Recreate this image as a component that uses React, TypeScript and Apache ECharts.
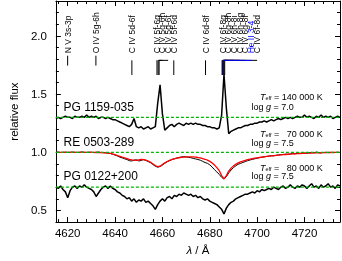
import React, { useEffect, useRef } from "react";
import * as echarts from "echarts";

const FONT = "'Liberation Sans', Arial, Helvetica, sans-serif";

// ---------- data ----------
const LAMBDA_START = 4615;
const LAMBDA_STEP = 1;
const X_MIN = 4615;
const X_MAX = 4735;
const Y_MIN = 0.4;
const Y_MAX = 2.3;

// PG 1159-035 observation (offset continuum 1.3)
const pg1159 = [
  1.29, 1.30, 1.29, 1.30, 1.31, 1.30, 1.30, 1.29, 1.31, 1.30,
  1.30, 1.31, 1.30, 1.32, 1.30, 1.31, 1.30, 1.31, 1.29, 1.30,
  1.30, 1.29, 1.30, 1.29, 1.28, 1.28, 1.27, 1.26, 1.25, 1.24,
  1.23, 1.22, 1.24, 1.29, 1.22, 1.21, 1.22, 1.20, 1.21, 1.22,
  1.20, 1.21, 1.22, 1.42, 1.58, 1.33, 1.19, 1.21, 1.23, 1.24,
  1.22, 1.24, 1.25, 1.24, 1.23, 1.25, 1.24, 1.25, 1.24, 1.25,
  1.24, 1.24, 1.23, 1.23, 1.22, 1.22, 1.21, 1.21, 1.20, 1.21,
  1.32, 1.67, 1.38, 1.16, 1.18, 1.19, 1.20, 1.21, 1.21, 1.22,
  1.23, 1.23, 1.24, 1.24, 1.25, 1.25, 1.26, 1.26, 1.27, 1.26,
  1.27, 1.28, 1.27, 1.28, 1.29, 1.28, 1.29, 1.30, 1.29, 1.30,
  1.29, 1.30, 1.31, 1.30, 1.30, 1.32, 1.30, 1.31, 1.30, 1.29,
  1.31, 1.30, 1.32, 1.30, 1.31, 1.30, 1.31, 1.29, 1.30, 1.31,
  1.30,
];

// RE 0503-289 observation (continuum 1.0)
const re0503Obs = [
  1.0, 1.002, 0.998, 1.0, 1.001, 0.999, 1.0, 1.002, 1.0, 0.998,
  1.0, 1.003, 1.0, 0.998, 1.001, 1.0, 0.997, 1.0, 1.002, 0.999,
  0.998, 0.996, 0.993, 0.99, 0.983, 0.976, 0.968, 0.958, 0.952, 0.944,
  0.938, 0.928, 0.925, 0.932, 0.936, 0.925, 0.93, 0.937, 0.93, 0.92,
  0.91, 0.895, 0.88, 0.872, 0.878, 0.89, 0.905, 0.918, 0.928, 0.937,
  0.944, 0.95, 0.955, 0.96, 0.962, 0.96, 0.957, 0.953, 0.948, 0.943,
  0.938, 0.932, 0.922, 0.912, 0.905, 0.892, 0.873, 0.85, 0.83, 0.81,
  0.785, 0.77, 0.79, 0.823, 0.848, 0.868, 0.884, 0.897, 0.904, 0.913,
  0.92, 0.928, 0.934, 0.939, 0.944, 0.949, 0.954, 0.958, 0.961, 0.964,
  0.967, 0.97, 0.969, 0.974, 0.977, 0.979, 0.981, 0.984, 0.982, 0.986,
  0.989, 0.987, 0.99, 0.992, 0.99, 0.994, 0.992, 0.996, 0.999, 0.995,
  1.002, 0.997, 0.995, 0.998, 1.0, 0.997, 0.999, 0.996, 0.998, 1.0,
  0.998,
];

// RE 0503-289 model (red)
const re0503Model = [
  1.0, 1.0, 1.0, 1.0, 1.0, 1.0, 1.0, 1.0, 1.0, 1.0,
  1.0, 1.0, 1.0, 1.0, 1.0, 0.999, 0.999, 0.998, 0.998, 0.997,
  0.996, 0.995, 0.993, 0.99, 0.985, 0.98, 0.972, 0.965, 0.958, 0.952,
  0.946, 0.94, 0.935, 0.932, 0.93, 0.934, 0.938, 0.937, 0.932, 0.924,
  0.914, 0.90, 0.886, 0.876, 0.88, 0.895, 0.91, 0.921, 0.93, 0.938,
  0.944, 0.949, 0.953, 0.956, 0.958, 0.96, 0.961, 0.961, 0.96, 0.958,
  0.955, 0.951, 0.946, 0.94, 0.932, 0.922, 0.908, 0.89, 0.868, 0.842,
  0.80, 0.772, 0.80, 0.838, 0.864, 0.883, 0.898, 0.909, 0.918, 0.925,
  0.931, 0.936, 0.941, 0.945, 0.949, 0.952, 0.955, 0.958, 0.961, 0.964,
  0.967, 0.969, 0.971, 0.973, 0.975, 0.977, 0.979, 0.981, 0.983, 0.985,
  0.986, 0.987, 0.988, 0.989, 0.99, 0.991, 0.992, 0.993, 0.994, 0.995,
  0.995, 0.996, 0.996, 0.997, 0.997, 0.998, 0.998, 0.999, 0.999, 1.0,
  1.0,
];

// PG 0122+200 observation (offset continuum 0.7)
const pg0122 = [
  0.70, 0.69, 0.71, 0.68, 0.66, 0.61, 0.67, 0.70, 0.71, 0.69,
  0.71, 0.70, 0.72, 0.70, 0.69, 0.68, 0.66, 0.62, 0.65, 0.68,
  0.70, 0.71, 0.69, 0.71, 0.69, 0.68, 0.66, 0.65, 0.63, 0.62,
  0.60, 0.61, 0.58, 0.60, 0.57, 0.59, 0.58, 0.60, 0.57, 0.58,
  0.56, 0.54, 0.51, 0.55, 0.58, 0.60, 0.58, 0.61, 0.62, 0.60,
  0.63, 0.62, 0.64, 0.63, 0.65, 0.64, 0.63, 0.64, 0.62, 0.63,
  0.61, 0.62, 0.60, 0.59, 0.60, 0.58, 0.57, 0.56, 0.55, 0.53,
  0.51, 0.47, 0.52, 0.55, 0.57, 0.58, 0.60, 0.61, 0.62, 0.63,
  0.64, 0.64, 0.65, 0.66, 0.65, 0.67, 0.66, 0.68, 0.67, 0.68,
  0.69, 0.68, 0.70, 0.69, 0.68, 0.70, 0.71, 0.69, 0.70, 0.72,
  0.70, 0.69, 0.71, 0.70, 0.72, 0.71, 0.69, 0.71, 0.73, 0.70,
  0.71, 0.69, 0.72, 0.70, 0.71, 0.73, 0.70, 0.71, 0.69, 0.72,
  0.71,
];

const continuumLevels = [1.3, 1.0, 0.7];

const xMajorTicks = [4620, 4640, 4660, 4680, 4700, 4720];
const xMinorTicks = [
  4616, 4624, 4628, 4632, 4636, 4644, 4648, 4652, 4656, 4664, 4668, 4672, 4676,
  4684, 4688, 4692, 4696, 4704, 4708, 4712, 4716, 4724, 4728, 4732,
];
const yMajorTicks = [0.5, 1.0, 1.5, 2.0];
const yMinorTicks = [0.6, 0.7, 0.8, 0.9, 1.1, 1.2, 1.3, 1.4, 1.6, 1.7, 1.8, 1.9, 2.1, 2.2];

// line identifications
const idNames = [
  "N V 3s-3p", "O IV 5g-6h", "C IV 5d-6f",
  "C IV 5f-6g", "C IV 5g-6h", "C IV 5g-6f", "C IV 5f-6d",
  "C IV 6d-8f",
  "C IV 6f-8g", "C IV 6g-8h", "C IV 6h-8i", "C IV 6h-8g", "C IV 6g-8f", "He II 3-4", "C IV 6f-8d",
];
const idWave = [
  4619.97, 4631.9, 4647.1,
  4657.7, 4658.2, 4658.6, 4664.8,
  4678.2,
  4685.2, 4685.5, 4685.6, 4685.8, 4686.0, 4685.7, 4686.3,
];
const idLabelWave = [
  4619.97, 4631.9, 4647.1,
  4657.6, 4660.0, 4662.4, 4664.8,
  4678.2,
  4685.4, 4687.8, 4690.2, 4692.6, 4695.0, 4697.6, 4700.0,
];

// star names and parameters
const starNames = ["PG 1159-035", "RE 0503-289", "PG 0122+200"];
const starNameLevels = [1.39, 1.09, 0.8];
const teffValues = ["140 000", "\u200770 000", "\u200780 000"];
const loggValues = ["7.0", "7.5", "7.5"];
const teffLevels = [1.476, 1.159, 0.865];
const loggLevels = [1.39, 1.083, 0.792];

// layout (data-space positions of annotation anchors)
const NAME_WAVE = 4618.2;
const TEFF_WAVE = 4701.2;
const LOGG_WAVE = 4697.6;
const TEXT_BASE = 1.85;
const MARK_JOIN = 1.79;
const MARK_BOTTOM = 1.664;
const SHORT_TOP = 1.83;
const SHORT_BOTTOM = 1.745;

const xy = (arr: number[]) => arr.map((v, i) => [LAMBDA_START + i * LAMBDA_STEP, v]);

export default function App() {
  const ref = useRef<HTMLDivElement>(null);
  useEffect(() => {
    const chart = echarts.init(ref.current!, null, { renderer: "svg" });

    const axisLine = { show: true, onZero: false, lineStyle: { color: "#000", width: 1 } };
    const xBase = { type: "value", min: X_MIN, max: X_MAX, gridIndex: 0, splitLine: { show: false } };
    const yBase = { type: "value", min: Y_MIN, max: Y_MAX, gridIndex: 0, splitLine: { show: false } };
    const majorTick = (vals: number[]) => ({ show: true, inside: true, length: 5, customValues: vals, lineStyle: { color: "#000", width: 1 } });
    const minorTick = (vals: number[]) => ({ show: true, inside: true, length: 3, customValues: vals, lineStyle: { color: "#000", width: 1 } });

    const lineSeries = (data: number[], color: string, width: number, z: number) => ({
      type: "line",
      xAxisIndex: 0,
      yAxisIndex: 0,
      data: xy(data),
      showSymbol: false,
      symbol: "none",
      lineStyle: { color, width },
      z,
      silent: true,
    });

    chart.setOption({
      animation: false,
      grid: { left: 41, right: 2, top: 1, bottom: 32, containLabel: false },
      xAxis: [
        {
          ...xBase,
          position: "bottom",
          axisLine,
          axisTick: majorTick(xMajorTicks),
          axisLabel: {
            show: true,
            customValues: xMajorTicks,
            color: "#000",
            fontSize: 11.5,
            fontFamily: FONT,
            margin: 5,
            formatter: (v: number) => String(v),
          },
          name: "{i|λ} / Å",
          nameLocation: "middle",
          nameGap: 20,
          nameTextStyle: {
            color: "#000",
            fontSize: 11.5,
            fontFamily: FONT,
            rich: { i: { fontStyle: "italic", fontSize: 11.5, fontFamily: FONT, color: "#000" } },
          },
        },
        { ...xBase, position: "bottom", axisLine: { show: false }, axisTick: minorTick(xMinorTicks), axisLabel: { show: false } },
        { ...xBase, position: "top", axisLine, axisTick: majorTick(xMajorTicks), axisLabel: { show: false } },
        { ...xBase, position: "top", axisLine: { show: false }, axisTick: minorTick(xMinorTicks), axisLabel: { show: false } },
      ],
      yAxis: [
        {
          ...yBase,
          position: "left",
          axisLine,
          axisTick: majorTick(yMajorTicks),
          axisLabel: {
            show: true,
            customValues: yMajorTicks,
            color: "#000",
            fontSize: 11.5,
            fontFamily: FONT,
            margin: 9,
            formatter: (v: number) => v.toFixed(1),
          },
          name: "relative flux",
          nameLocation: "middle",
          nameGap: 27,
          nameTextStyle: { color: "#000", fontSize: 11.5, fontFamily: FONT },
        },
        { ...yBase, position: "left", axisLine: { show: false }, axisTick: minorTick(yMinorTicks), axisLabel: { show: false } },
        { ...yBase, position: "right", axisLine, axisTick: majorTick(yMajorTicks), axisLabel: { show: false } },
        { ...yBase, position: "right", axisLine: { show: false }, axisTick: minorTick(yMinorTicks), axisLabel: { show: false } },
      ],
      series: [
        lineSeries(pg1159, "#000", 1.5, 2),
        lineSeries(re0503Obs, "#000", 1, 2),
        lineSeries(re0503Model, "#ff0000", 1.3, 3),
        lineSeries(pg0122, "#000", 1.5, 2),
        ...continuumLevels.map((lvl) => ({
          type: "line",
          xAxisIndex: 0,
          yAxisIndex: 0,
          data: [
            [X_MIN, lvl],
            [X_MAX, lvl],
          ],
          showSymbol: false,
          symbol: "none",
          lineStyle: { color: "#00b400", width: 1.2, type: [3, 2] },
          z: 4,
          silent: true,
        })),
        {
          type: "custom",
          xAxisIndex: 0,
          yAxisIndex: 0,
          data: idWave.map((w, i) => [w, i]),
          clip: false,
          silent: true,
          z: 5,
          renderItem: (_params: any, api: any) => {
            const w = api.value(0) as number;
            const i = api.value(1) as number;
            const name = idNames[i];
            const isHe = name.startsWith("He");
            const isShort = name.startsWith("N V") || name.startsWith("O IV");
            const color = isHe ? "#0000ff" : "#000";
            let pts: number[][];
            if (isShort) {
              pts = [api.coord([w, SHORT_BOTTOM]), api.coord([w, SHORT_TOP])];
            } else {
              pts = [api.coord([w, MARK_BOTTOM]), api.coord([w, MARK_JOIN]), api.coord([idLabelWave[i], MARK_JOIN])];
            }
            const t = api.coord([idLabelWave[i], TEXT_BASE]);
            return {
              type: "group",
              children: [
                { type: "polyline", z2: isHe ? 10 : 0, shape: { points: pts }, style: { stroke: color, lineWidth: 1, fill: null } },
                {
                  type: "text",
                  x: t[0],
                  y: t[1],
                  rotation: Math.PI / 2,
                  z2: isHe ? 10 : 0,
                  style: { text: name, fill: color, font: `8.5px ${FONT}`, align: "left", verticalAlign: "middle" },
                },
              ],
            };
          },
        },
      ],
    });

    const px = (l: number, v: number) => chart.convertToPixel({ xAxisIndex: 0, yAxisIndex: 0 }, [l, v]) as number[];
    const graphics: any[] = [];
    starNames.forEach((n, i) => {
      const p = px(NAME_WAVE, starNameLevels[i]);
      graphics.push({
        type: "text",
        x: p[0],
        y: p[1],
        silent: true,
        style: { text: n, fill: "#000", font: `12px ${FONT}`, align: "left", verticalAlign: "middle" },
      });
    });
    const rich = {
      t: { fontStyle: "italic", fontSize: 9, fontFamily: FONT, fill: "#000", lineHeight: 8 },
      s: { fontSize: 5.5, fontFamily: FONT, fill: "#000", verticalAlign: "bottom", lineHeight: 6 },
      n: { fontSize: 9, fontFamily: FONT, fill: "#000", lineHeight: 8 },
    };
    teffValues.forEach((t, i) => {
      const p1 = px(TEFF_WAVE, teffLevels[i]);
      graphics.push({
        type: "text",
        x: p1[0],
        y: p1[1],
        silent: true,
        style: { text: `{t|T}{s|eff}{n| = ${t} K}`, rich, font: `9px ${FONT}`, fill: "#000", align: "left", verticalAlign: "middle" },
      });
      const p2 = px(LOGG_WAVE, loggLevels[i]);
      graphics.push({
        type: "text",
        x: p2[0],
        y: p2[1],
        silent: true,
        style: { text: `{n|log }{t|g}{n| = ${loggValues[i]}}`, rich, font: `9px ${FONT}`, fill: "#000", align: "left", verticalAlign: "middle" },
      });
    });
    chart.setOption({ graphic: graphics });

    return () => chart.dispose();
  }, []);
  return <div ref={ref} style={{ position: "fixed", left: 0, top: 0, width: 342, height: 261 }} />;
}
